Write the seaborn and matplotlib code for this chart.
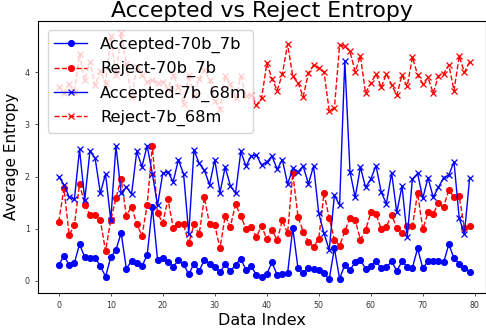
import matplotlib
matplotlib.use("Agg")
import matplotlib.pyplot as plt
import seaborn as sns
import numpy as np
import pandas as pd

accepted_70b_7b = [0.30, 0.48, 0.30, 0.34, 0.70, 0.45, 0.43, 0.44, 0.28, 0.08,
                   0.45, 0.59, 0.92, 0.23, 0.38, 0.34, 0.28, 0.49, 1.42, 0.40,
                   0.44, 0.36, 0.27, 0.39, 0.32, 0.12, 0.33, 0.19, 0.40, 0.33,
                   0.27, 0.16, 0.32, 0.18, 0.31, 0.42, 0.21, 0.28, 0.11, 0.07,
                   0.13, 0.35, 0.11, 0.13, 0.14, 1.01, 0.24, 0.15, 0.24, 0.23,
                   0.21, 0.14, 0.03, 0.62, 0.04, 0.30, 0.21, 0.35, 0.40, 0.23,
                   0.28, 0.37, 0.24, 0.26, 0.37, 0.19, 0.37, 0.27, 0.25, 0.62,
                   0.24, 0.37, 0.38, 0.37, 0.35, 0.70, 0.43, 0.33, 0.24, 0.17]

reject_70b_7b = [1.13, 1.77, 0.88, 1.06, 1.86, 1.46, 1.27, 1.27, 1.16, 0.57,
                 1.16, 1.59, 1.95, 1.25, 1.42, 1.09, 0.86, 1.45, 2.59, 1.29,
                 1.11, 1.56, 1.02, 1.09, 1.08, 0.72, 1.08, 0.89, 1.60, 1.08,
                 1.07, 0.62, 1.24, 1.04, 1.47, 1.24, 1.00, 1.04, 0.84, 1.05,
                 0.80, 0.97, 0.78, 1.16, 0.91, 2.06, 1.23, 0.94, 0.75, 0.65,
                 0.81, 1.68, 1.20, 0.79, 0.67, 0.95, 1.20, 1.16, 0.79, 0.97,
                 1.31, 1.28, 0.99, 1.04, 1.26, 1.02, 0.92, 1.05, 1.05, 1.68,
                 0.99, 1.31, 1.28, 1.50, 1.42, 1.74, 1.60, 1.62, 1.01, 1.05]

accepted_7b_68m = [2.00, 1.84, 1.61, 1.56, 2.52, 1.55, 2.49, 2.35, 1.68, 2.05,
                   1.16, 2.59, 1.68, 1.80, 1.66, 2.48, 2.19, 2.59, 2.05, 1.45,
                   2.06, 2.09, 1.90, 2.32, 2.05, 0.90, 2.51, 2.25, 2.12, 1.84,
                   2.32, 1.69, 2.18, 1.82, 1.68, 2.48, 2.20, 2.39, 2.41, 2.22,
                   2.28, 2.39, 2.14, 2.32, 1.85, 2.16, 2.09, 2.20, 1.86, 2.20,
                   1.29, 0.91, 0.59, 1.64, 1.45, 4.22, 2.09, 1.60, 2.18, 1.79,
                   1.95, 2.21, 1.70, 1.48, 2.07, 1.31, 1.82, 0.84, 1.95, 2.06,
                   1.58, 1.98, 1.60, 1.79, 1.98, 2.03, 2.28, 1.20, 0.90, 1.97]

reject_7b_68m = [3.72, 3.60, 3.78, 3.62, 4.35, 3.85, 4.20, 3.75, 4.02, 3.80,
                 4.70, 3.95, 4.75, 4.15, 3.52, 4.10, 3.95, 3.82, 3.85, 3.80,
                 3.82, 3.68, 3.95, 3.72, 3.40, 3.95, 3.55, 3.88, 4.05, 3.85,
                 3.45, 3.30, 3.92, 3.78, 3.50, 3.92, 3.55, 3.56, 3.37, 3.50,
                 4.17, 3.88, 3.65, 3.97, 4.54, 3.92, 3.80, 3.53, 3.98, 4.14,
                 4.08, 4.01, 3.26, 3.31, 4.52, 4.50, 4.40, 4.01, 4.31, 3.60,
                 3.79, 3.97, 3.71, 3.97, 3.76, 3.56, 3.95, 3.73, 4.29, 3.95,
                 3.78, 3.90, 3.60, 3.93, 3.97, 4.14, 3.65, 4.31, 4.00, 4.20]

labels = ["Accepted-70b_7b", "Reject-70b_7b", "Accepted-7b_68m", "Reject-7b_68m"]
series = [accepted_70b_7b, reject_70b_7b, accepted_7b_68m, reject_7b_68m]
styles = [("blue", "o", "-"), ("red", "o", "--"), ("blue", "x", "-"), ("red", "x", "--")]

fig = plt.figure(figsize=(4.86, 3.29), dpi=100)
ax = fig.add_axes([38.2 / 486, (329 - 292.7) / 329, (486 - 38.2) / 486, (292.7 - 20.7) / 329])

for lab, vals, (c, m, ls) in zip(labels, series, styles):
    df = pd.DataFrame({"idx": np.arange(len(vals)), "val": vals})
    sns.lineplot(data=df, x="idx", y="val", ax=ax, color=c, marker=m, linestyle=ls,
                 label=lab, linewidth=1.0, markersize=4.2 if m == "o" else 4.0,
                 markeredgecolor=c, markeredgewidth=0.9)

ax.set_xlim(-3.95, 82.15)
ax.set_ylim(-0.23, 4.99)
ax.set_xticks([0, 10, 20, 30, 40, 50, 60, 70, 80])
ax.set_yticks([0, 1, 2, 3, 4])
ax.tick_params(labelsize=5.7, length=2.5, width=0.6, colors="#333333")
for s in ax.spines.values():
    s.set_linewidth(0.8)
ax.set_title("Accepted vs Reject Entropy", fontsize=15.8, pad=2)
ax.set_xlabel("Data Index", fontsize=11.5, labelpad=2)
ax.set_ylabel("Average Entropy", fontsize=11, labelpad=4)
ax.legend(loc="upper left", fontsize=11.7, framealpha=0.8, borderaxespad=0.6)

fig.savefig("out.png", dpi=100)
